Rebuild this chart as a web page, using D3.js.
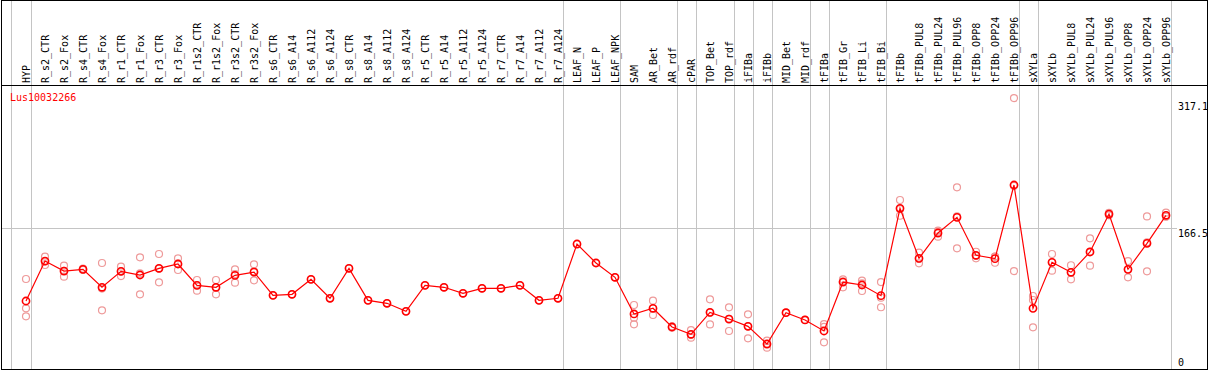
<!DOCTYPE html>
<meta charset="utf-8">
<style>
  body { margin: 0; background: #fff; }
  text { font-family: "DejaVu Sans Mono", monospace; font-size: 10px; }
</style>
<body>
  <div id="chart"></div>
  <script src="https://d3js.org/d3.v7.min.js"></script>
  <script>
    var geneName = "Lus10032266";

    var categories = ["HYP", "R_s2_CTR", "R_s2_Fox", "R_s4_CTR", "R_s4_Fox", "R_r1_CTR", "R_r1_Fox",
      "R_r3_CTR", "R_r3_Fox", "R_r1s2_CTR", "R_r1s2_Fox", "R_r3s2_CTR", "R_r3s2_Fox", "R_s6_CTR",
      "R_s6_A14", "R_s6_A112", "R_s6_A124", "R_s8_CTR", "R_s8_A14", "R_s8_A112", "R_s8_A124",
      "R_r5_CTR", "R_r5_A14", "R_r5_A112", "R_r5_A124", "R_r7_CTR", "R_r7_A14", "R_r7_A112",
      "R_r7_A124", "LEAF_N", "LEAF_P", "LEAF_NPK", "SAM", "AR_Bet", "AR_rdf", "cPAR", "TOP_Bet",
      "TOP_rdf", "iFIBa", "iFIBb", "MID_Bet", "MID_rdf", "tFIBa", "tFIB_Gr", "tFIB_Li", "tFIB_Bi",
      "tFIBb", "tFIBb_PUL8", "tFIBb_PUL24", "tFIBb_PUL96", "tFIBb_OPP8", "tFIBb_OPP24",
      "tFIBb_OPP96", "sXYLa", "sXYLb", "sXYLb_PUL8", "sXYLb_PUL24", "sXYLb_PUL96", "sXYLb_OPP8",
      "sXYLb_OPP24", "sXYLb_OPP96"];

    // mean expression (red line)
    var means = [80.3, 127.5, 115.7, 117.7, 96.5, 115.3, 111.0, 118.9, 124.0, 98.8, 96.5, 110.6,
      114.5, 87.0, 88.2, 105.9, 83.5, 118.9, 81.1, 77.6, 68.1, 98.8, 96.5, 89.4, 95.3, 95.3, 98.8,
      81.1, 83.5, 147.6, 125.2, 108.3, 65.0, 71.7, 49.6, 41.0, 66.9, 59.0, 50.4, 29.5, 66.5, 57.9,
      44.9, 102.7, 99.2, 86.6, 189.8, 130.7, 160.6, 179.1, 134.3, 130.3, 217.3, 71.6, 126.0, 114.2,
      138.2, 183.0, 117.7, 148.4, 181.5];

    // single replicates (pink circles)
    var replicates = [
      [106.3, 71.6, 62.2], [132.6, 122.8, 127.2], [122.0, 109.0, 116.0], [118.5, 117.0, 117.6],
      [125.2, 69.3, 95.0], [120.8, 109.8, 115.4], [131.9, 88.2, 112.9], [135.8, 102.4, 118.5],
      [130.7, 116.9, 124.4], [105.1, 92.5, 98.9], [105.1, 88.2, 96.1], [117.7, 101.9, 112.2],
      [123.6, 104.7, 115.2], [87.0], [88.2], [105.9], [83.5], [118.9], [81.1], [77.6], [68.1],
      [98.8], [96.5], [89.4], [95.3], [95.3], [98.8], [81.1], [83.5], [147.6], [125.2], [108.3],
      [75.6, 60.6, 52.8], [80.7, 63.8, 71.5], [50.5, 48.8], [46.0, 37.0, 40.5],
      [82.3, 52.7, 66.5], [72.8, 44.9, 59.3], [64.6, 36.2, 50.4], [33.5, 25.2, 29.8],
      [66.5], [57.9], [53.1, 31.5, 49.8], [105.9, 96.5, 103.5], [104.3, 92.1, 101.2],
      [102.7, 72.9, 84.2], [199.6, 181.0, 188.8], [137.4, 124.8, 130.0], [156.3, 163.5, 162.0],
      [214.6, 142.5, 180.2], [138.5, 130.7, 133.7], [132.6, 125.5, 132.8], [320.0, 115.7, 216.2],
      [86.2, 81.5, 49.2], [135.8, 116.1, 126.1], [122.5, 105.9, 114.2], [154.3, 122.0, 138.3],
      [184.5, 181.5, 183.0], [127.5, 108.3, 117.3], [180.2, 115.3, 149.7], [184.6, 179.8, 180.1]
    ];

    // last sample of each group (a gray separator follows it)
    var groupEnds = ["HYP", "R_r7_A124", "LEAF_NPK", "AR_rdf", "cPAR", "TOP_rdf", "iFIBa", "iFIBb",
      "MID_rdf", "tFIBa", "tFIB_Bi", "tFIBb_OPP96", "sXYLa", "sXYLb_OPP96"];

    var yTicks = [0, 166.5, 317.1];
    var yGrid = [166.5];

    var width = 1209,
      height = 370,
      headerBottom = 85,
      plotBottom = 369,
      axisX = 1178;

    var x = d3.scalePoint()
      .domain(categories)
      .range([26, 26 + 19 * (categories.length - 1)]);

    var y = d3.scaleLinear()
      .domain([0, 317.1])
      .range([plotBottom, 100.5]);

    var svg = d3.select("#chart")
      .append("svg")
      .attr("width", width)
      .attr("height", height);

    // horizontal grid
    svg.selectAll(".grid")
      .data(yGrid)
      .enter().append("line")
      .attr("x1", 1).attr("x2", 1177)
      .attr("y1", function(d) { return Math.round(y(d)) + 0.5; })
      .attr("y2", function(d) { return Math.round(y(d)) + 0.5; })
      .style("stroke", "#c4c4c4");

    // group separators
    var seps = [x(categories[0]) - 15].concat(groupEnds.map(function(d) { return x(d) + 5; }));
    svg.selectAll(".sep")
      .data(seps)
      .enter().append("line")
      .attr("x1", function(d) { return d + 0.5; })
      .attr("x2", function(d) { return d + 0.5; })
      .attr("y1", 0).attr("y2", plotBottom)
      .style("stroke", "#c4c4c4");

    // header labels
    svg.selectAll(".lab")
      .data(categories)
      .enter().append("text")
      .attr("transform", function(d) { return "translate(" + (x(d) + 4) + "," + (headerBottom - 2) + ") rotate(-90)"; })
      .style("fill", "#000")
      .text(function(d) { return d; });

    // borders
    svg.append("line")
      .attr("x1", 1).attr("x2", 1207)
      .attr("y1", headerBottom + 0.5).attr("y2", headerBottom + 0.5)
      .style("stroke", "#000");
    svg.append("rect")
      .attr("x", 1.5).attr("y", 0.5)
      .attr("width", 1206).attr("height", plotBottom)
      .style("fill", "none")
      .style("stroke", "#000");

    // gene name
    svg.append("text")
      .attr("x", 10).attr("y", 101)
      .style("fill", "#f00")
      .text(geneName);

    // right axis labels
    svg.selectAll(".ytick")
      .data(yTicks)
      .enter().append("text")
      .attr("x", axisX)
      .attr("y", function(d) { return Math.min(y(d) + 9, 366); })
      .style("fill", "#000")
      .text(function(d) { return d; });

    // replicate points
    var reps = [];
    replicates.forEach(function(r, i) {
      r.forEach(function(v) { reps.push({ name: categories[i], value: v }); });
    });
    svg.selectAll(".rep")
      .data(reps)
      .enter().append("circle")
      .attr("cx", function(d) { return x(d.name); })
      .attr("cy", function(d) { return y(d.value); })
      .attr("r", 3.5)
      .style("fill", "none")
      .style("stroke", "#ee9a9a")
      .style("stroke-width", 1.2);

    // mean line
    var line = d3.line()
      .x(function(d, i) { return x(categories[i]); })
      .y(function(d) { return y(d); });

    svg.append("path")
      .datum(means)
      .attr("d", line)
      .style("fill", "none")
      .style("stroke", "#f00")
      .style("stroke-width", 1.2);

    svg.selectAll(".mean")
      .data(means)
      .enter().append("circle")
      .attr("cx", function(d, i) { return x(categories[i]); })
      .attr("cy", function(d) { return y(d); })
      .attr("r", 3.6)
      .style("fill", "none")
      .style("stroke", "#f00")
      .style("stroke-width", 1.6);
  </script>
</body>
